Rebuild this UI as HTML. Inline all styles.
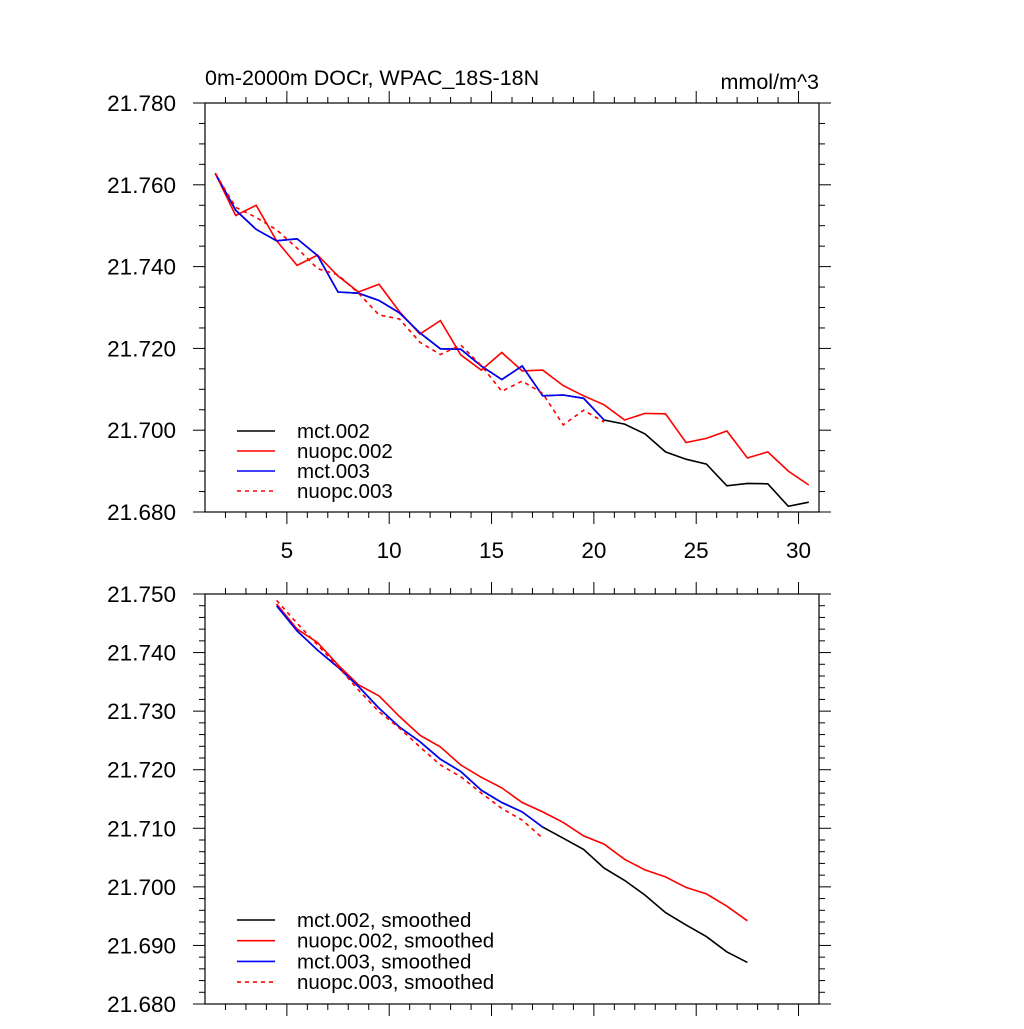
<!DOCTYPE html>
<html><head><meta charset="utf-8"><style>
html,body{margin:0;padding:0;background:#fff;}
svg text{font-family:"Liberation Sans",sans-serif;fill:#000;}
</style></head><body>
<svg id="chart" width="1024" height="1024" xmlns="http://www.w3.org/2000/svg"></svg>
<script>
// ---- data ----
const xRaw = [1.5,2.5,3.5,4.5,5.5,6.5,7.5,8.5,9.5,10.5,11.5,12.5,13.5,14.5,15.5,16.5,17.5,18.5,19.5,20.5,21.5,22.5,23.5,24.5,25.5,26.5,27.5,28.5,29.5,30.5];
const mct002 = [21.7628,21.7538,21.7491,21.7463,21.7468,21.7427,21.7338,21.7335,21.7317,21.7287,21.7238,21.7199,21.7198,21.7157,21.7124,21.7157,21.7084,21.7086,21.7078,21.7025,21.7015,21.6991,21.6947,21.6929,21.6917,21.6864,21.6870,21.6869,21.6814,21.6824];
const nuopc002 = [21.7628,21.7525,21.7550,21.7463,21.7403,21.7428,21.7377,21.7338,21.7357,21.7290,21.7235,21.7268,21.7184,21.7147,21.7190,21.7145,21.7147,21.7109,21.7084,21.7062,21.7025,21.7041,21.7040,21.6970,21.6980,21.6998,21.6932,21.6947,21.6900,21.6866];
const mct003 = [21.7628,21.7538,21.7491,21.7463,21.7468,21.7427,21.7338,21.7335,21.7317,21.7287,21.7238,21.7199,21.7198,21.7157,21.7124,21.7157,21.7084,21.7086,21.7078,21.7025];
const nuopc003 = [21.7628,21.7545,21.7520,21.7490,21.7445,21.7395,21.7380,21.7335,21.7282,21.7272,21.7215,21.7185,21.7208,21.7158,21.7095,21.7120,21.7090,21.7013,21.7049,21.7020];
const xSm = [4.5,5.5,6.5,7.5,8.5,9.5,10.5,11.5,12.5,13.5,14.5,15.5,16.5,17.5,18.5,19.5,20.5,21.5,22.5,23.5,24.5,25.5,26.5,27.5];
const mct002s = [21.7480,21.7437,21.7404,21.7375,21.7342,21.7305,21.7273,21.7248,21.7218,21.7197,21.7165,21.7144,21.7128,21.7102,21.7083,21.7064,21.7032,21.7011,21.6986,21.6956,21.6935,21.6915,21.6889,21.6871];
const nuopc002s = [21.7483,21.7440,21.7417,21.7379,21.7345,21.7326,21.7291,21.7259,21.7239,21.7208,21.7187,21.7169,21.7144,21.7128,21.7110,21.7087,21.7073,21.7047,21.7029,21.7017,21.6999,21.6988,21.6967,21.6942];
const mct003s = [21.7480,21.7437,21.7404,21.7375,21.7342,21.7305,21.7273,21.7248,21.7218,21.7197,21.7165,21.7144,21.7128,21.7102];
const nuopc003s = [21.7489,21.7450,21.7413,21.7376,21.7336,21.7299,21.7271,21.7239,21.7208,21.7188,21.7160,21.7134,21.7114,21.7083];
const xTickLabels = ["5","10","15","20","25","30"];
const yTicksTop = ["21.780","21.760","21.740","21.720","21.700","21.680"];
const yTicksBot = ["21.750","21.740","21.730","21.720","21.710","21.700","21.690","21.680"];
const legendTop = ["mct.002","nuopc.002","mct.003","nuopc.003"];
const legendBot = ["mct.002, smoothed","nuopc.002, smoothed","mct.003, smoothed","nuopc.003, smoothed"];

const svg = document.getElementById('chart');
const NS = 'http://www.w3.org/2000/svg';
function mk(tag, attrs, parent){const e=document.createElementNS(NS,tag);for(const k in attrs)e.setAttribute(k,attrs[k]);(parent||svg).appendChild(e);return e;}
const L=205,R=819;
const xs = x => L + (x-1)/30*(R-L);

function panel(name, top, bot, ymin, ymax, yMajor, yMinor, labels, showX){
  const g = mk('g',{});
  
  
  const ys = v => bot - (v-ymin)/(ymax-ymin)*(bot-top);
  mk('rect',{x:L,y:top,width:R-L,height:bot-top,fill:'none',stroke:'#000','stroke-width':1.2},g);
  const nMin = Math.round((ymax-ymin)/yMinor);
  for(let i=0;i<=nMin;i++){
    const v=ymin+i*yMinor, y=ys(v);
    const major = Math.abs((v-ymin)/yMajor - Math.round((v-ymin)/yMajor))<1e-6;
    const len = major?12:6;
    mk('line',{x1:L-len,x2:L,y1:y,y2:y,stroke:'#000','stroke-width':1},g);
    mk('line',{x1:R,x2:R+len,y1:y,y2:y,stroke:'#000','stroke-width':1},g);
  }
  labels.forEach((t,i)=>{
    const v=ymax-i*yMajor;
    const tx=mk('text',{x:176,y:ys(v)+8,'text-anchor':'end','font-size':22.5},g);
    tx.textContent=t;
    
    
  });
  for(let x=2;x<=30;x++){
    const major=x%5===0, len=major?12:6, px=xs(x);
    mk('line',{x1:px,x2:px,y1:bot,y2:bot+len,stroke:'#000','stroke-width':1},g);
    mk('line',{x1:px,x2:px,y1:top-len,y2:top,stroke:'#000','stroke-width':1},g);
  }
  if(showX){
    xTickLabels.forEach(t=>{
      const tx=mk('text',{x:xs(+t),y:bot+46,'text-anchor':'middle','font-size':22.5},g);
      tx.textContent=t;
      
      
    });
  }
  return {g, ys};
}
function series(p, name, xarr, yarr, color, dash){
  const pts = yarr.map((v,i)=>xs(xarr[i]).toFixed(1)+','+p.ys(v).toFixed(1)).join(' ');
  const e = mk('polyline',{points:pts,fill:'none',stroke:color,'stroke-width':1.6,'stroke-dasharray':dash?'4,4':'none'},p.g);
  
  
}
function legend(p, name, items, y0, dy){
  const cols=['#000','#f00','#00f','#f00'];
  items.forEach((t,i)=>{
    const y=y0+i*dy;
    const ln=mk('line',{x1:237,x2:275,y1:y,y2:y,stroke:cols[i],'stroke-width':1.6,'stroke-dasharray':i===3?'4,4':'none'},p.g);
    
    
    const tx=mk('text',{x:297,y:y+7,'font-size':20.5},p.g);
    tx.textContent=t;
    
    
  });
}
const p1 = panel('top-panel',103,512,21.680,21.780,0.02,0.005,yTicksTop,true);
series(p1,'mct002-line',xRaw,mct002,'#000',false);
series(p1,'nuopc002-line',xRaw,nuopc002,'#f00',false);
series(p1,'mct003-line',xRaw,mct003,'#00f',false);
series(p1,'nuopc003-line',xRaw,nuopc003,'#f00',true);
legend(p1,'top-legend',legendTop,431,20);
const t1=mk('text',{x:205,y:85,'font-size':21.5},p1.g); t1.textContent='0m-2000m DOCr, WPAC_18S-18N';
 
const t2=mk('text',{x:819,y:89,'font-size':21.5,'text-anchor':'end'},p1.g); t2.textContent='mmol/m^3';
 

const p2 = panel('bottom-panel',594,1004,21.680,21.750,0.01,0.002,yTicksBot,false);
series(p2,'mct002-smoothed-line',xSm,mct002s,'#000',false);
series(p2,'nuopc002-smoothed-line',xSm,nuopc002s,'#f00',false);
series(p2,'mct003-smoothed-line',xSm,mct003s,'#00f',false);
series(p2,'nuopc003-smoothed-line',xSm,nuopc003s,'#f00',true);
legend(p2,'bottom-legend',legendBot,920,20.7);
</script>
</body></html>
